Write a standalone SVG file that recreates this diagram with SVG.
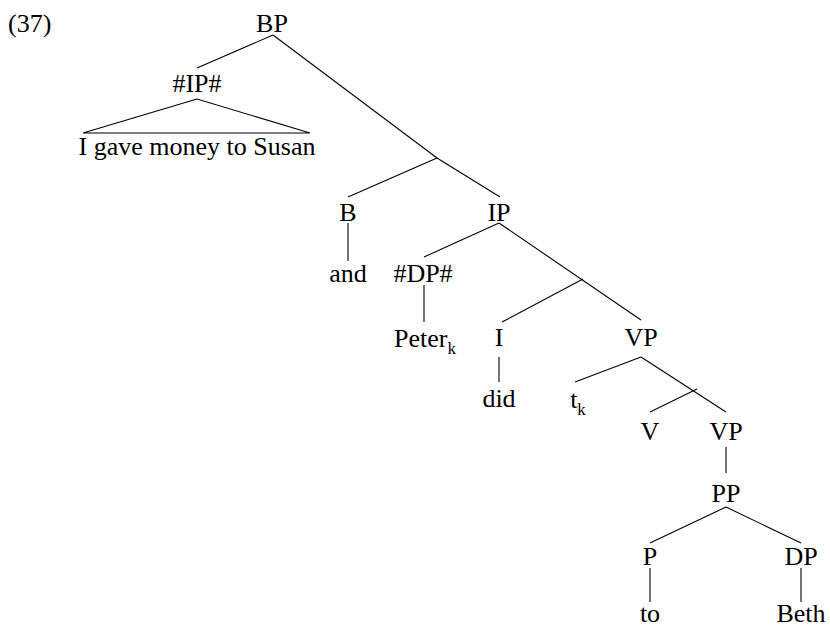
<svg xmlns="http://www.w3.org/2000/svg" width="830" height="627" viewBox="0 0 830 627">
<style>
text{font-family:'Liberation Serif','DejaVu Serif','Times New Roman',serif;font-size:26px;fill:#000;text-anchor:middle}
.sub{font-size:17px}
.lab{text-anchor:start}
line,polygon{stroke:#000;stroke-width:1.1;fill:none}
</style>
<rect width="830" height="627" fill="#fff"/>
<text class="lab" x="8" y="32">(37)</text>
<g id="connectors">
<line x1="273" y1="35" x2="197" y2="68"/>
<line x1="273" y1="35" x2="437" y2="158"/>
<polygon points="197,99 83,133 310,133"/>
<line x1="437" y1="158" x2="348" y2="197"/>
<line x1="437" y1="158" x2="500" y2="197"/>
<line x1="348" y1="223" x2="348" y2="261"/>
<line x1="499" y1="223" x2="424" y2="257"/>
<line x1="499" y1="223" x2="641" y2="320"/>
<line x1="583" y1="279" x2="502" y2="322"/>
<line x1="424" y1="285" x2="424" y2="322"/>
<line x1="499" y1="357" x2="499" y2="382"/>
<line x1="641" y1="357" x2="575" y2="382"/>
<line x1="641" y1="357" x2="726" y2="412"/>
<line x1="697" y1="389" x2="650" y2="412"/>
<line x1="726" y1="447" x2="726" y2="473"/>
<line x1="726" y1="507" x2="650" y2="543"/>
<line x1="726" y1="507" x2="801" y2="543"/>
<line x1="650" y1="568" x2="650" y2="602"/>
<line x1="801" y1="568" x2="801" y2="602"/>
</g>
<g id="n-BP"><text x="272" y="32">BP</text></g>
<g id="n-IPhash"><text x="197" y="92">#IP#</text></g>
<g id="n-sentence"><text x="197" y="155" font-size="27">I gave money to Susan</text></g>
<g id="n-B"><text x="348" y="221">B</text></g>
<g id="n-IP"><text x="499" y="221">IP</text></g>
<g id="n-and"><text x="348" y="282">and</text></g>
<g id="n-DPhash"><text x="423" y="282">#DP#</text></g>
<g id="n-Peter"><text x="425" y="347">Peter<tspan class="sub" dy="7">k</tspan></text></g>
<g id="n-I"><text x="499" y="346">I</text></g>
<g id="n-VP1"><text x="641" y="346">VP</text></g>
<g id="n-did"><text x="499" y="407">did</text></g>
<g id="n-t"><text x="578" y="408">t<tspan class="sub" dy="7">k</tspan></text></g>
<g id="n-V"><text x="650" y="440">V</text></g>
<g id="n-VP2"><text x="726" y="440">VP</text></g>
<g id="n-PP"><text x="726" y="502">PP</text></g>
<g id="n-P"><text x="650" y="565">P</text></g>
<g id="n-DP"><text x="801" y="565">DP</text></g>
<g id="n-to"><text x="650" y="622">to</text></g>
<g id="n-Beth"><text x="801" y="622">Beth</text></g>
</svg>
